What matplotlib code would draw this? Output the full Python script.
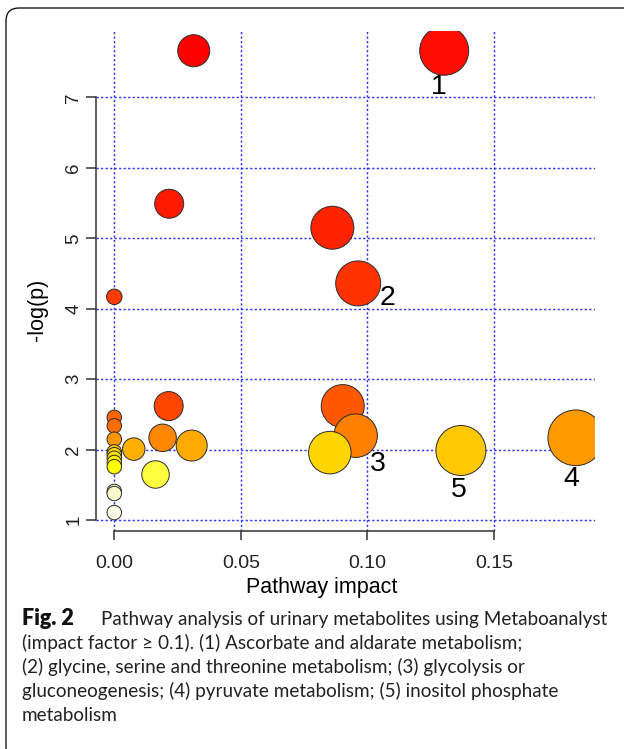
import numpy as np
import matplotlib
matplotlib.use('Agg')
import matplotlib.pyplot as plt
from matplotlib.patches import FancyBboxPatch

# ---- data (sorted by -log(p), drawing order) ----
impact = [0.0314, 0.1304, 0.0217, 0.0862, 0.0964, 0.0, 0.0903, 0.0215,
          0.0, 0.0, 0.0954, 0.0191, 0.1824, 0.0, 0.0306, 0.0077, 0.137,
          0.0, 0.0852, 0.0, 0.0, 0.0, 0.0, 0.0163, 0.0, 0.0, 0.0]
neg_log_p = [7.66, 7.66, 5.49, 5.15, 4.36, 4.17, 2.62, 2.62,
             2.46, 2.34, 2.20, 2.17, 2.17, 2.15, 2.06, 2.01, 1.99,
             1.97, 1.96, 1.93, 1.88, 1.82, 1.76, 1.65, 1.41, 1.38, 1.11]
# bubble diameter (px)
bubble_px = [32, 49, 29, 43, 45, 15.5, 43, 29,
             14.5, 14.5, 43.5, 27.5, 55.7, 14.5, 31, 22.5, 50,
             14.5, 42.5, 14.5, 14.5, 14.5, 14.5, 27.5, 14.5, 14.5, 14.5]
bubble_colors = ['#ff0000', '#ff0d00', '#ff1a00', '#ff2400', '#ff3300', '#ff3c00',
                 '#ff5800', '#ff4600', '#ff6400', '#ff6e00', '#ff8000', '#ff8800',
                 '#ff9900', '#ff9500', '#ffaa00', '#ffb000', '#ffc800', '#ffcc00',
                 '#ffd500', '#ffdb00', '#ffe400', '#ffee00', '#ffff00', '#ffff40',
                 '#fbf6b4', '#fcf9cc', '#fdfbe4']

# labelled pathways: label -> index in arrays
labelled = {'1': 1, '2': 4, '3': 10, '4': 12, '5': 16}
# label offsets from bubble centre (px)
label_offsets = {'1': (-5.6, -36), '2': (29.7, -14.5), '3': (22.1, -28.2),
                 '4': (-4.1, -41), '5': (-1.6, -39.6)}

x_ticks = [0.00, 0.05, 0.10, 0.15]
y_ticks = [1, 2, 3, 4, 5, 6, 7]

caption_bold = 'Fig. 2'
caption_lines = ['Pathway analysis of urinary metabolites using Metaboanalyst',
                 '(impact factor \u2265 0.1). (1) Ascorbate and aldarate metabolism;',
                 '(2) glycine, serine and threonine metabolism; (3) glycolysis or',
                 'gluconeogenesis; (4) pyruvate metabolism; (5) inositol phosphate',
                 'metabolism']

# ---- figure ----
W, H = 624, 749
fig = plt.figure(figsize=(W / 100, H / 100), dpi=100)
PT = 0.72  # points per pixel

# axes = R plot region
left, right, top, bottom = 96.3, 595, 31, 530.7
ax = fig.add_axes([left / W, 1 - bottom / H, (right - left) / W, (bottom - top) / H])

s = (np.array(bubble_px) * PT) ** 2
ax.scatter(impact, neg_log_p, s=s, c=bubble_colors, edgecolors='#2b2b2b',
           linewidths=0.7, zorder=3)

for lab, i in labelled.items():
    dx, dy = label_offsets[lab]
    ax.annotate(lab, (impact[i], neg_log_p[i]), xytext=(dx * PT, dy * PT),
                textcoords='offset points', ha='center', va='center',
                fontsize=20.5, family='Liberation Sans', color='black', zorder=4)

ax.set_xlim(-0.00711, 0.19)
ax.set_ylim(0.8525, 7.94)
ax.set_xticks(x_ticks)
ax.set_xticklabels([f'{v:.2f}' for v in x_ticks])
ax.set_yticks(y_ticks)
ax.set_yticklabels([str(v) for v in y_ticks], rotation=90, va='center')

ax.set_axisbelow(True)
ax.grid(True, color='#2f2fff', linestyle=(0, (1.5, 1.6)), linewidth=1.05)

for side in ['top', 'right']:
    ax.spines[side].set_visible(False)
ax.spines['left'].set_bounds(1, 7)
ax.spines['bottom'].set_bounds(0, 0.15)
for side in ['left', 'bottom']:
    ax.spines[side].set_color('#333333')
    ax.spines[side].set_linewidth(1.1)

ax.tick_params(axis='y', length=10 * PT, width=1.1, color='#333333',
               pad=3, labelsize=13.5, labelcolor='#222222')
ax.tick_params(axis='x', length=8.7 * PT, width=1.1, color='#333333',
               pad=11, labelsize=14, labelcolor='#222222')
for t in ax.get_xticklabels() + ax.get_yticklabels():
    t.set_family('Liberation Sans')

ax.set_xlabel('Pathway impact', fontsize=15.5, family='Liberation Sans')
ax.xaxis.set_label_coords((321.7 - left) / (right - left), (bottom - 577) / (bottom - top))
ax.set_ylabel('-log(p)', fontsize=15.5, family='Liberation Sans')
ax.yaxis.set_label_coords((48 - left) / (right - left), (bottom - 310) / (bottom - top))

# ---- caption ----
cap_font = ['Lato', 'DejaVu Sans']
cap_size = 13.6
base_y = 625
line_h = 23.9
fig.text(21.9 / W, 1 - base_y / H, caption_bold, fontsize=15.5, family=cap_font,
         weight='heavy', va='baseline', color='#111111')
fig.text(101 / W, 1 - base_y / H, caption_lines[0], fontsize=cap_size,
         family=cap_font, va='baseline', color='#222222')
for k, line in enumerate(caption_lines[1:], start=1):
    fig.text(21.9 / W, 1 - (base_y + k * line_h) / H, line, fontsize=cap_size,
             family=cap_font, va='baseline', color='#222222')

# rounded frame (cut by the image edge on the right and bottom)
frame = FancyBboxPatch((0.06, -0.12), 6.6, 7.53, boxstyle='round,pad=0,rounding_size=0.13',
                       transform=fig.dpi_scale_trans, fill=False, edgecolor='black',
                       linewidth=0.9)
fig.add_artist(frame)

fig.savefig('out.png', dpi=100)
